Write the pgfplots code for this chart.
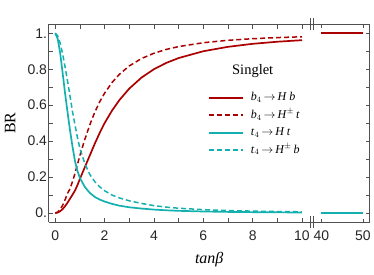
\documentclass[border=0pt]{standalone}
\usepackage{pgfplots}
\pgfplotsset{compat=1.18}
\usepackage{fontspec}
\setmainfont{Liberation Serif}
\newfontfamily\sansf{Liberation Sans}
\definecolor{myred}{RGB}{170,0,0}
\definecolor{myteal}{RGB}{20,176,176}
\definecolor{spine}{RGB}{80,80,80}
\tikzset{
  lnredsolid/.style={draw=myred, line width=1.7pt, line join=round},
  lnreddash/.style={draw=myred, line width=1.5pt, dash pattern=on 5pt off 3pt},
  lntealsolid/.style={draw=myteal, line width=1.7pt, line join=round},
  lntealdash/.style={draw=myteal, line width=1.5pt, dash pattern=on 5pt off 3pt},
}

\pgfplotstableread{
t    bH      bHpm    tH      tHpm
0    0       0       1       1
0.1  0.0025  0.0050  0.970   0.986
0.2  0.0099  0.0196  0.890   0.945
0.3  0.0220  0.0431  0.780   0.885
0.4  0.0385  0.0741  0.665   0.812
0.5  0.0580  0.1100  0.560   0.734
0.6  0.0800  0.1350  0.460   0.650
0.7  0.1020  0.1750  0.370   0.565
0.8  0.1250  0.2200  0.290   0.490
0.9  0.1550  0.2700  0.235   0.420
1.0  0.1900  0.3200  0.195   0.360
1.2  0.2550  0.4100  0.145   0.275
1.4  0.3200  0.4900  0.112   0.215
1.6  0.3850  0.5600  0.090   0.175
1.8  0.4450  0.6183  0.075   0.146
2.0  0.5000  0.6667  0.064   0.124
2.3  0.5694  0.7257  0.051   0.100
2.6  0.6283  0.7717  0.041   0.084
3.0  0.6923  0.8182  0.032   0.068
3.5  0.7538  0.8596  0.0249  0.0533
4.0  0.8000  0.8889  0.0192  0.0413
4.5  0.8351  0.9101  0.0152  0.0329
5.0  0.8621  0.9259  0.0123  0.0268
6.0  0.9000  0.9474  0.0086  0.0188
7.0  0.9245  0.9608  0.0063  0.0139
8.0  0.9412  0.9697  0.0049  0.0107
9.0  0.9529  0.9759  0.0038  0.0084
10.0 0.9615  0.9804  0.0031  0.0068
}\lowtab

\pgfplotstableread{
t    bH   bHpm  tH   tHpm
40   1    1     0    0
50   1    1     0    0
}\hightab

\begin{document}
\begin{tikzpicture}
\pgfplotsset{
  common/.style={
    scale only axis, height=198pt,
    ymin=-0.05, ymax=1.05,
    axis line style={spine, line width=0.6pt},
    tick style={spine, line width=0.6pt},
    tick align=inside,
    major tick length=4.5pt,
    ytick={0,0.1,...,1.0},
    ticklabel style={font=\sansf\fontsize{14}{15}\selectfont, text=black!85},
    xticklabel style={yshift=-5pt},
    yticklabel style={inner sep=1.5pt},
    clip=true,
  },
}
\begin{axis}[common,
  name=L, at={(0pt,0pt)}, anchor=south west,
  width=263.3pt,
  xmin=-0.267, xmax=10.39,
  axis x line*=box, axis y line*=left,
  xtick={0,1,...,10},
  xticklabels={0,,2,,4,,6,,8,,10},
  yticklabels={0.,,0.2,,0.4,,0.6,,0.8,,1.},
  legend style={draw=none, fill=none, at={(rel axis cs:0.594,0.6775)}, anchor=north west,
    font=\fontsize{12}{13}\selectfont, row sep=2pt,
    nodes={inner sep=2pt, text height=8.5pt, text depth=3pt},
    /tikz/every odd column/.append style={column sep=5pt}},
  legend cell align=left,
  legend image code/.code={\draw[#1, line width=2pt] (0pt,0pt) -- (34pt,0pt);},
]
\addplot[/tikz/lnredsolid] table[x=t, y=bH] {\lowtab};
\addlegendentry{\textit{b}$_4$\,$\rightarrow$\,\textit{H b}}
\addplot[/tikz/lnreddash] table[x=t, y=bHpm] {\lowtab};
\addlegendentry{\textit{b}$_4$\,$\rightarrow$\,\textit{H}$^\pm$\,\textit{t}}
\addplot[/tikz/lntealsolid] table[x=t, y=tH] {\lowtab};
\addlegendentry{\textit{t}$_4$\,$\rightarrow$\,\textit{H t}}
\addplot[/tikz/lntealdash] table[x=t, y=tHpm] {\lowtab};
\addlegendentry{\textit{t}$_4$\,$\rightarrow$\,\textit{H}$^\pm$\,\textit{b}}
\node[font=\fontsize{14.5}{15}\selectfont] at (rel axis cs:0.776,0.764) {Singlet};
\end{axis}
\begin{axis}[common,
  at={(263.3pt,0pt)}, anchor=south west,
  width=58pt,
  xmin=37.67, xmax=51.6,
  axis x line*=box, axis y line*=right,
  xtick={40,50},
  xticklabels={40,50},
  yticklabels={},
  major tick length=3.5pt,
]
\addplot[/tikz/lnredsolid] table[x=t, y=bH] {\hightab};
\addplot[/tikz/lnreddash] table[x=t, y=bHpm] {\hightab};
\addplot[/tikz/lntealsolid] table[x=t, y=tH] {\hightab};
\addplot[/tikz/lntealdash] table[x=t, y=tHpm] {\hightab};
\end{axis}
% axis break marks
\foreach \yy in {0pt,198pt}{
  \draw[spine, line width=0.7pt] (261.8pt,\yy-6pt) -- (261.8pt,\yy+6pt);
  \draw[spine, line width=0.7pt] (264.8pt,\yy-6pt) -- (264.8pt,\yy+6pt);
}
\node[font=\fontsize{16}{17}\selectfont, rotate=90] at (-38.5pt,99pt) {BR};
\node[font=\fontsize{16}{17}\selectfont] at (160.8pt,-37.7pt) {\textit{tanβ}};
\path (-48.7pt,-52.7pt) rectangle (325.3pt,222.3pt);
\end{tikzpicture}
\end{document}
